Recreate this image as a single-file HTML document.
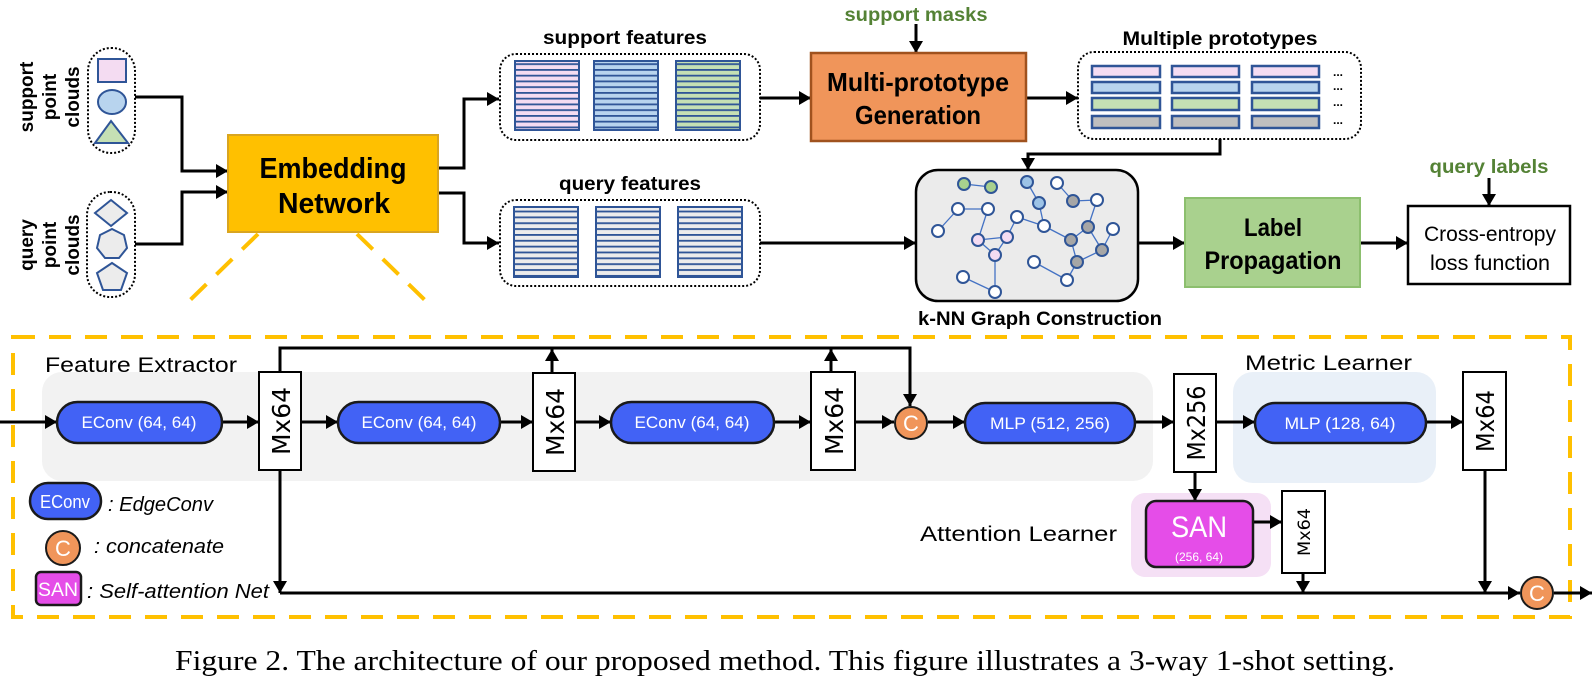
<!DOCTYPE html>
<html><head><meta charset="utf-8"><style>
html,body{margin:0;padding:0;background:#fff;}
svg{display:block;}
.b{font-weight:bold;}
</style></head><body>
<svg width="1593" height="680" viewBox="0 0 1593 680" xmlns="http://www.w3.org/2000/svg" font-family="Liberation Sans, sans-serif">
<defs>
<marker id="a" markerWidth="12" markerHeight="14" refX="12" refY="7" orient="auto" markerUnits="userSpaceOnUse"><path d="M0,0 L12,7 L0,14z" fill="#000"/></marker>
<pattern id="pp" width="20" height="5.75" patternUnits="userSpaceOnUse"><rect width="20" height="5.75" fill="#f4dcf2"/><line x1="0" y1="0.9" x2="20" y2="0.9" stroke="#2f5597" stroke-width="1.8"/></pattern>
<pattern id="pb" width="20" height="5.75" patternUnits="userSpaceOnUse"><rect width="20" height="5.75" fill="#b8d4ee"/><line x1="0" y1="0.9" x2="20" y2="0.9" stroke="#2f5597" stroke-width="1.8"/></pattern>
<pattern id="pg" width="20" height="5.75" patternUnits="userSpaceOnUse"><rect width="20" height="5.75" fill="#c5e0b4"/><line x1="0" y1="0.9" x2="20" y2="0.9" stroke="#2f5597" stroke-width="1.8"/></pattern>
<pattern id="pq" width="20" height="5.85" patternUnits="userSpaceOnUse"><rect width="20" height="5.85" fill="#ececec"/><line x1="0" y1="0.9" x2="20" y2="0.9" stroke="#2f5597" stroke-width="1.8"/></pattern>
</defs>

<g class="b" font-size="19" text-anchor="middle">
<text transform="translate(27,97) rotate(-90)" dy="6">support</text>
<text transform="translate(50,97) rotate(-90)" dy="6">point</text>
<text transform="translate(73,97) rotate(-90)" dy="6">clouds</text>
<text transform="translate(27,245) rotate(-90)" dy="6">query</text>
<text transform="translate(50,245) rotate(-90)" dy="6">point</text>
<text transform="translate(73,245) rotate(-90)" dy="6">clouds</text>
</g>
<rect x="88" y="48" width="47" height="105" rx="23" fill="none" stroke="#000" stroke-width="2" stroke-dasharray="2 2"/>
<rect x="98" y="59" width="28" height="23" fill="#f4dcf2" stroke="#2f5597" stroke-width="2"/>
<ellipse cx="112" cy="102" rx="14" ry="12" fill="#b8d4ee" stroke="#2f5597" stroke-width="2"/>
<polygon points="111,121 128,143 95,143" fill="#c5e0b4" stroke="#2f5597" stroke-width="2"/>
<rect x="87" y="192" width="48" height="105" rx="23" fill="none" stroke="#000" stroke-width="2" stroke-dasharray="2 2"/>
<polygon points="111,200 127,213 111,226 95,213" fill="#ececec" stroke="#2f5597" stroke-width="2"/>
<polygon points="112,229 124,235 127,248 119,258 105,258 97,248 100,235" fill="#ececec" stroke="#2f5597" stroke-width="2"/>
<polygon points="112,263 127,273 121,290 103,290 97,273" fill="#ececec" stroke="#2f5597" stroke-width="2"/>

<g fill="none" stroke="#000" stroke-width="3">
<polyline points="135,97 182,97 182,171 228,171" marker-end="url(#a)"/>
<polyline points="135,244 182,244 182,192 228,192" marker-end="url(#a)"/>
<polyline points="438,168 464,168 464,99 499,99" marker-end="url(#a)"/>
<polyline points="438,193 464,193 464,243 499,243" marker-end="url(#a)"/>
<line x1="760" y1="98" x2="811" y2="98" marker-end="url(#a)"/>
<line x1="1026" y1="98" x2="1078" y2="98" marker-end="url(#a)"/>
<line x1="916" y1="24" x2="916" y2="53" marker-end="url(#a)"/>
<polyline points="1220,139 1220,154 1028,154 1028,170" marker-end="url(#a)"/>
<line x1="760" y1="243" x2="916" y2="243" marker-end="url(#a)"/>
<line x1="1138" y1="243" x2="1185" y2="243" marker-end="url(#a)"/>
<line x1="1360" y1="243" x2="1408" y2="243" marker-end="url(#a)"/>
<line x1="1489" y1="178" x2="1489" y2="206" marker-end="url(#a)"/>
</g>

<rect x="228" y="135" width="210" height="97" fill="#ffc000" stroke="#d9a520" stroke-width="2"/>
<text class="b" x="333" y="178" font-size="29" text-anchor="middle" textLength="147" lengthAdjust="spacingAndGlyphs">Embedding</text>
<text class="b" x="334" y="213" font-size="29" text-anchor="middle" textLength="112" lengthAdjust="spacingAndGlyphs">Network</text>

<text class="b" x="625" y="44" font-size="19" text-anchor="middle" textLength="164" lengthAdjust="spacingAndGlyphs">support features</text>
<rect x="500" y="54" width="260" height="86" rx="16" fill="none" stroke="#000" stroke-width="2" stroke-dasharray="2 2"/>
<rect x="515" y="61" width="64" height="69" fill="url(#pp)" stroke="#2f5597" stroke-width="2"/>
<rect x="594" y="61" width="64" height="69" fill="url(#pb)" stroke="#2f5597" stroke-width="2"/>
<rect x="676" y="61" width="64" height="69" fill="url(#pg)" stroke="#2f5597" stroke-width="2"/>
<text class="b" x="630" y="190" font-size="19" text-anchor="middle" textLength="142" lengthAdjust="spacingAndGlyphs">query features</text>
<rect x="500" y="200" width="260" height="86" rx="16" fill="none" stroke="#000" stroke-width="2" stroke-dasharray="2 2"/>
<rect x="514" y="207" width="64" height="70" fill="url(#pq)" stroke="#2f5597" stroke-width="2"/>
<rect x="596" y="207" width="64" height="70" fill="url(#pq)" stroke="#2f5597" stroke-width="2"/>
<rect x="678" y="207" width="64" height="70" fill="url(#pq)" stroke="#2f5597" stroke-width="2"/>

<text class="b" x="916" y="21" font-size="19" fill="#548235" text-anchor="middle" textLength="143" lengthAdjust="spacingAndGlyphs">support masks</text>
<rect x="811" y="53" width="215" height="88" fill="#f0955a" stroke="#a0521e" stroke-width="2.5"/>
<text class="b" x="918" y="91" font-size="26" text-anchor="middle" textLength="182" lengthAdjust="spacingAndGlyphs">Multi-prototype</text>
<text class="b" x="918" y="124" font-size="26" text-anchor="middle" textLength="126" lengthAdjust="spacingAndGlyphs">Generation</text>

<text class="b" x="1220" y="45" font-size="19" text-anchor="middle" textLength="195" lengthAdjust="spacingAndGlyphs">Multiple prototypes</text>
<rect x="1078" y="52" width="283" height="87" rx="16" fill="none" stroke="#000" stroke-width="2" stroke-dasharray="2 2"/>
<g stroke="#2f5597" stroke-width="2.5">
<rect x="1092" y="66" width="68" height="11" fill="#f4dcf2"/><rect x="1172" y="66" width="67" height="11" fill="#f4dcf2"/><rect x="1252" y="66" width="67" height="11" fill="#f4dcf2"/>
<rect x="1092" y="82" width="68" height="11" fill="#b8d4ee"/><rect x="1172" y="82" width="67" height="11" fill="#b8d4ee"/><rect x="1252" y="82" width="67" height="11" fill="#b8d4ee"/>
<rect x="1092" y="98" width="68" height="12" fill="#c5e0b4"/><rect x="1172" y="98" width="67" height="12" fill="#c5e0b4"/><rect x="1252" y="98" width="67" height="12" fill="#c5e0b4"/>
<rect x="1092" y="116" width="68" height="12" fill="#bfbfbf"/><rect x="1172" y="116" width="67" height="12" fill="#bfbfbf"/><rect x="1252" y="116" width="67" height="12" fill="#bfbfbf"/>
</g>
<g font-size="12" class="b"><text x="1333" y="76">...</text><text x="1333" y="90">...</text><text x="1333" y="106">...</text><text x="1333" y="124">...</text></g>

<rect x="916" y="170" width="222" height="131" rx="22" fill="#ebebeb" stroke="#000" stroke-width="2.5"/>
<g stroke="#4472c4" stroke-width="1.3">
<line x1="964" y1="184" x2="991" y2="187"/><line x1="1027" y1="182" x2="1039" y2="203"/><line x1="1039" y1="203" x2="1044" y2="226"/>
<line x1="1057" y1="183" x2="1073" y2="201"/><line x1="1073" y1="201" x2="1097" y2="200"/><line x1="1097" y1="200" x2="1088" y2="227"/>
<line x1="958" y1="209" x2="988" y2="209"/><line x1="958" y1="209" x2="938" y2="231"/><line x1="988" y1="209" x2="978" y2="240"/>
<line x1="978" y1="240" x2="1007" y2="237"/><line x1="1007" y1="237" x2="1017" y2="217"/><line x1="978" y1="240" x2="995" y2="255"/>
<line x1="1007" y1="237" x2="995" y2="255"/><line x1="1017" y1="217" x2="1044" y2="226"/><line x1="1044" y1="226" x2="1071" y2="240"/>
<line x1="1088" y1="227" x2="1071" y2="240"/><line x1="1088" y1="227" x2="1102" y2="250"/><line x1="1113" y1="229" x2="1102" y2="250"/>
<line x1="1071" y1="240" x2="1077" y2="262"/><line x1="1102" y1="250" x2="1077" y2="262"/><line x1="995" y1="255" x2="995" y2="292"/>
<line x1="963" y1="277" x2="995" y2="292"/><line x1="1034" y1="262" x2="1067" y2="280"/><line x1="1077" y1="262" x2="1067" y2="280"/>
</g>
<g stroke="#2f5597" stroke-width="2" >
<circle cx="964" cy="184" r="6" fill="#a9d18e"/><circle cx="991" cy="187" r="6" fill="#a9d18e"/>
<circle cx="1027" cy="182" r="6" fill="#9dc3e6"/><circle cx="1039" cy="203" r="6" fill="#9dc3e6"/>
<circle cx="1057" cy="183" r="6" fill="#fff"/><circle cx="1073" cy="201" r="6" fill="#a6a6a6"/><circle cx="1097" cy="200" r="6" fill="#fff"/>
<circle cx="958" cy="209" r="6" fill="#fff"/><circle cx="988" cy="209" r="6" fill="#fff"/><circle cx="1017" cy="217" r="6" fill="#fff"/>
<circle cx="1044" cy="226" r="6" fill="#fff"/><circle cx="1088" cy="227" r="6" fill="#a6a6a6"/><circle cx="1113" cy="229" r="6" fill="#fff"/>
<circle cx="938" cy="231" r="6" fill="#fff"/><circle cx="978" cy="240" r="6" fill="#f4dcf2"/><circle cx="1007" cy="237" r="6" fill="#f4dcf2"/>
<circle cx="1071" cy="240" r="6" fill="#a6a6a6"/><circle cx="1102" cy="250" r="6" fill="#a6a6a6"/><circle cx="995" cy="255" r="6" fill="#f4dcf2"/>
<circle cx="1034" cy="262" r="6" fill="#fff"/><circle cx="1077" cy="262" r="6" fill="#a6a6a6"/><circle cx="963" cy="277" r="6" fill="#fff"/>
<circle cx="995" cy="292" r="6" fill="#fff"/><circle cx="1067" cy="280" r="6" fill="#fff"/>
</g>
<text class="b" x="1040" y="325" font-size="19" text-anchor="middle" textLength="244" lengthAdjust="spacingAndGlyphs">k-NN Graph Construction</text>

<rect x="1185" y="198" width="175" height="89" fill="#a9d18e" stroke="#8cbf6e" stroke-width="2"/>
<text class="b" x="1273" y="236" font-size="25" text-anchor="middle" textLength="58" lengthAdjust="spacingAndGlyphs">Label</text>
<text class="b" x="1273" y="269" font-size="25" text-anchor="middle" textLength="137" lengthAdjust="spacingAndGlyphs">Propagation</text>
<text class="b" x="1489" y="173" font-size="19" fill="#548235" text-anchor="middle" textLength="119" lengthAdjust="spacingAndGlyphs">query labels</text>
<rect x="1408" y="206" width="162" height="78" fill="#fff" stroke="#000" stroke-width="2.5"/>
<text x="1490" y="241" font-size="21" text-anchor="middle" textLength="132" lengthAdjust="spacingAndGlyphs">Cross-entropy</text>
<text x="1490" y="270" font-size="21" text-anchor="middle" textLength="120" lengthAdjust="spacingAndGlyphs">loss function</text>

<g stroke="#ffc000" stroke-width="4" fill="none" stroke-dasharray="22 14">
<line x1="258" y1="234" x2="184" y2="306"/>
<line x1="357" y1="234" x2="431" y2="306"/>
<rect x="13" y="337" width="1557" height="280"/>
</g>

<rect x="42" y="372" width="1111" height="109" rx="20" fill="#f2f2f2"/>
<rect x="1233" y="372" width="203" height="111" rx="20" fill="#e9f0f8"/>
<rect x="1131" y="493" width="140" height="84" rx="14" fill="#f5e0f5"/>
<text x="45" y="372" font-size="21" textLength="192" lengthAdjust="spacingAndGlyphs">Feature Extractor</text>
<text x="1245" y="370" font-size="21" textLength="167" lengthAdjust="spacingAndGlyphs">Metric Learner</text>
<text x="920" y="541" font-size="21" textLength="197" lengthAdjust="spacingAndGlyphs">Attention Learner</text>

<g fill="none" stroke="#000" stroke-width="3">
<line x1="0" y1="422" x2="57" y2="422" marker-end="url(#a)"/>
<line x1="222" y1="422" x2="259" y2="422" marker-end="url(#a)"/>
<line x1="301" y1="422" x2="338" y2="422" marker-end="url(#a)"/>
<line x1="500" y1="422" x2="533" y2="422" marker-end="url(#a)"/>
<line x1="575" y1="422" x2="611" y2="422" marker-end="url(#a)"/>
<line x1="774" y1="422" x2="811" y2="422" marker-end="url(#a)"/>
<line x1="855" y1="422" x2="894" y2="422" marker-end="url(#a)"/>
<line x1="928" y1="422" x2="965" y2="422" marker-end="url(#a)"/>
<line x1="1135" y1="422" x2="1174" y2="422" marker-end="url(#a)"/>
<line x1="1216" y1="422" x2="1255" y2="422" marker-end="url(#a)"/>
<line x1="1426" y1="422" x2="1463" y2="422" marker-end="url(#a)"/>
<polyline points="280,372 280,348 910,348 910,406" marker-end="url(#a)"/>
<line x1="552" y1="373" x2="552" y2="349" marker-end="url(#a)"/>
<line x1="831" y1="372" x2="831" y2="349" marker-end="url(#a)"/>
<polyline points="280,470 280,593" marker-end="url(#a)"/>
<line x1="280" y1="593" x2="1520" y2="593" marker-end="url(#a)"/>
<line x1="1195" y1="472" x2="1195" y2="501" marker-end="url(#a)"/>
<line x1="1253" y1="522" x2="1282" y2="522" marker-end="url(#a)"/>
<line x1="1303" y1="573" x2="1303" y2="593" marker-end="url(#a)"/>
<line x1="1485" y1="470" x2="1485" y2="593" marker-end="url(#a)"/>
<line x1="1554" y1="593" x2="1592" y2="593" marker-end="url(#a)"/>
</g>

<g fill="#4262f5" stroke="#1a1a1a" stroke-width="2.5">
<rect x="57" y="402" width="165" height="41" rx="20.5"/>
<rect x="338" y="402" width="162" height="41" rx="20.5"/>
<rect x="611" y="402" width="163" height="41" rx="20.5"/>
<rect x="965" y="403" width="170" height="40" rx="20"/>
<rect x="1255" y="403" width="171" height="40" rx="20"/>
<rect x="30" y="483" width="71" height="36" rx="18"/>
</g>
<g fill="#fff" font-size="17" text-anchor="middle">
<text x="139" y="428" textLength="115" lengthAdjust="spacingAndGlyphs">EConv (64, 64)</text>
<text x="419" y="428" textLength="115" lengthAdjust="spacingAndGlyphs">EConv (64, 64)</text>
<text x="692" y="428" textLength="115" lengthAdjust="spacingAndGlyphs">EConv (64, 64)</text>
<text x="1050" y="429" textLength="120" lengthAdjust="spacingAndGlyphs">MLP (512, 256)</text>
<text x="1340" y="429" textLength="111" lengthAdjust="spacingAndGlyphs">MLP (128, 64)</text>
<text x="65" y="508" font-size="18" textLength="50" lengthAdjust="spacingAndGlyphs">EConv</text>
</g>

<g fill="#fff" stroke="#000" stroke-width="2">
<rect x="259" y="372" width="42" height="98"/>
<rect x="533" y="373" width="42" height="98"/>
<rect x="811" y="372" width="44" height="98"/>
<rect x="1174" y="374" width="42" height="98"/>
<rect x="1463" y="372" width="43" height="98"/>
<rect x="1282" y="491" width="43" height="82"/>
</g>
<g font-family="DejaVu Sans, sans-serif" text-anchor="middle">
<text transform="translate(281,421) rotate(-90)" dy="9" font-size="25" textLength="68" lengthAdjust="spacingAndGlyphs">Mx64</text>
<text transform="translate(555,422) rotate(-90)" dy="9" font-size="25" textLength="68" lengthAdjust="spacingAndGlyphs">Mx64</text>
<text transform="translate(834,421) rotate(-90)" dy="9" font-size="25" textLength="68" lengthAdjust="spacingAndGlyphs">Mx64</text>
<text transform="translate(1196,423) rotate(-90)" dy="9" font-size="25" textLength="75" lengthAdjust="spacingAndGlyphs">Mx256</text>
<text transform="translate(1485,421) rotate(-90)" dy="9" font-size="25" textLength="62" lengthAdjust="spacingAndGlyphs">Mx64</text>
<text transform="translate(1304,532) rotate(-90)" dy="6" font-size="17" textLength="48" lengthAdjust="spacingAndGlyphs">Mx64</text>
</g>

<rect x="1146" y="501" width="107" height="66" rx="10" fill="#e54de8" stroke="#1a1a1a" stroke-width="2.5"/>
<text x="1199" y="537" font-size="30" fill="#fff" text-anchor="middle" textLength="56" lengthAdjust="spacingAndGlyphs">SAN</text>
<text x="1199" y="561" font-size="12" fill="#fff" text-anchor="middle">(256, 64)</text>
<rect x="36" y="572" width="45" height="33" rx="5" fill="#e54de8" stroke="#1a1a1a" stroke-width="2.5"/>
<text x="58" y="596" font-size="19" fill="#fff" text-anchor="middle" textLength="40" lengthAdjust="spacingAndGlyphs">SAN</text>

<g fill="#f0955a" stroke="#1a1a1a" stroke-width="2">
<circle cx="911" cy="423" r="16"/><circle cx="1537" cy="593" r="16"/><circle cx="63" cy="548" r="17"/>
</g>
<g fill="#fff" font-size="22" text-anchor="middle">
<text x="911" y="431">C</text><text x="1537" y="601">C</text><text x="63" y="556">C</text>
</g>

<g font-size="20" font-style="italic">
<text x="108" y="511" textLength="105" lengthAdjust="spacingAndGlyphs">: EdgeConv</text>
<text x="94" y="553" textLength="130" lengthAdjust="spacingAndGlyphs">: concatenate</text>
<text x="87" y="598" textLength="182" lengthAdjust="spacingAndGlyphs">: Self-attention Net</text>
</g>

<text x="175" y="670" font-family="Liberation Serif, serif" font-size="29" textLength="1220" lengthAdjust="spacingAndGlyphs">Figure 2. The architecture of our proposed method. This figure illustrates a 3-way 1-shot setting.</text>
</svg>
</body></html>
